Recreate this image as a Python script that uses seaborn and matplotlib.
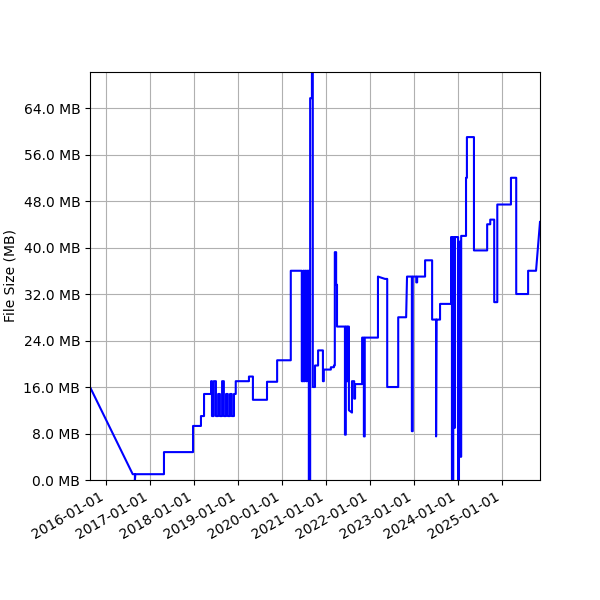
import matplotlib
matplotlib.use("Agg")
import matplotlib.pyplot as plt
import matplotlib.dates as mdates
from matplotlib.ticker import FuncFormatter, MultipleLocator
import seaborn as sns
import pandas as pd

# time in decimal years, size in MB (rows of 10 aligned)
t = [2015.64, 2016.61, 2016.66, 2016.66, 2016.67, 2017.32, 2017.32, 2017.98, 2017.98, 2018.16,
     2018.16, 2018.23, 2018.23, 2018.39, 2018.39, 2018.41, 2018.41, 2018.45, 2018.45, 2018.50,
     2018.50, 2018.55, 2018.55, 2018.59, 2018.59, 2018.64, 2018.64, 2018.68, 2018.68, 2018.73,
     2018.73, 2018.77, 2018.77, 2018.82, 2018.82, 2018.86, 2018.86, 2018.91, 2018.91, 2018.95,
     2018.95, 2019.25, 2019.25, 2019.34, 2019.34, 2019.66, 2019.66, 2019.89, 2019.89, 2020.20,
     2020.20, 2020.45, 2020.45, 2020.48, 2020.48, 2020.50, 2020.50, 2020.52, 2020.52, 2020.55,
     2020.55, 2020.57, 2020.57, 2020.61, 2020.61, 2020.64, 2020.64, 2020.68, 2020.68, 2020.70,
     2020.70, 2020.75, 2020.75, 2020.82, 2020.82, 2020.93, 2020.93, 2020.95, 2020.95, 2021.11,
     2021.11, 2021.18, 2021.18, 2021.20, 2021.20, 2021.23, 2021.23, 2021.25, 2021.25, 2021.43,
     2021.43, 2021.45, 2021.45, 2021.48, 2021.48, 2021.50, 2021.50, 2021.52, 2021.52, 2021.59,
     2021.59, 2021.64, 2021.64, 2021.66, 2021.66, 2021.82, 2021.82, 2021.86, 2021.86, 2021.88,
     2021.88, 2022.18, 2022.18, 2022.34, 2022.39, 2022.39, 2022.64, 2022.64, 2022.82, 2022.84,
     2022.95, 2022.95, 2022.97, 2022.97, 2023.05, 2023.05, 2023.07, 2023.07, 2023.25, 2023.25,
     2023.41, 2023.41, 2023.50, 2023.50, 2023.51, 2023.59, 2023.59, 2023.84, 2023.84, 2023.86,
     2023.86, 2023.89, 2023.89, 2023.91, 2023.91, 2023.93, 2023.93, 2024.00, 2024.00, 2024.02,
     2024.02, 2024.05, 2024.05, 2024.07, 2024.07, 2024.18, 2024.18, 2024.20, 2024.20, 2024.36,
     2024.36, 2024.66, 2024.66, 2024.73, 2024.73, 2024.82, 2024.82, 2024.89, 2024.89, 2025.20,
     2025.20, 2025.32, 2025.32, 2025.59, 2025.59, 2025.77, 2025.86]
mb = [16.0, 1.0, 1.0, 0.0, 1.0, 1.0, 4.8, 4.8, 9.3, 9.3,
      11.0, 11.0, 14.8, 14.8, 17.0, 17.0, 11.0, 11.0, 17.0, 17.0,
      11.0, 11.0, 14.8, 14.8, 11.0, 11.0, 17.0, 17.0, 11.0, 11.0,
      14.8, 14.8, 11.0, 11.0, 14.8, 14.8, 11.0, 11.0, 14.8, 14.8,
      17.0, 17.0, 17.8, 17.8, 13.8, 13.8, 16.9, 16.9, 20.6, 20.6,
      36.0, 36.0, 17.0, 17.0, 36.0, 36.0, 17.0, 17.0, 36.0, 36.0,
      17.0, 17.0, 36.0, 36.0, 0.0, 0.0, 65.7, 65.7, 72.0, 72.0,
      16.0, 16.0, 19.7, 19.7, 22.3, 22.3, 17.0, 17.0, 19.0, 19.0,
      19.4, 19.4, 19.7, 19.7, 39.2, 39.2, 33.6, 33.6, 26.4, 26.4,
      7.8, 7.8, 26.4, 26.4, 17.0, 17.0, 26.4, 26.4, 12.0, 11.6,
      17.0, 17.0, 14.0, 14.0, 16.5, 16.5, 24.5, 24.5, 7.5, 7.5,
      24.5, 24.5, 35.0, 34.6, 34.6, 16.0, 16.0, 28.0, 28.0, 35.0,
      35.0, 8.4, 8.4, 35.0, 35.0, 34.0, 34.0, 35.0, 35.0, 37.8,
      37.8, 27.6, 27.6, 7.5, 27.6, 27.6, 30.3, 30.3, 41.8, 41.8,
      0.0, 0.0, 41.8, 41.8, 9.0, 9.0, 41.8, 41.8, 0.0, 0.0,
      41.0, 41.0, 4.0, 4.0, 42.0, 42.0, 52.0, 52.0, 59.0, 59.0,
      39.5, 39.5, 44.0, 44.0, 44.8, 44.8, 30.6, 30.6, 47.4, 47.4,
      52.0, 52.0, 32.0, 32.0, 36.0, 36.0, 44.4]

def to_date(y):
    return pd.Timestamp("2016-01-01") + pd.to_timedelta((y - 2016.0) * 365.25, unit="D")

df = pd.DataFrame({"date": [to_date(v) for v in t], "size": mb})

fig = plt.figure(figsize=(6, 6), dpi=100)
ax = fig.add_axes([0.15, 0.2, 0.75, 0.68])
sns.lineplot(data=df, x="date", y="size", sort=False, estimator=None, color="blue", linewidth=1.5, ax=ax)
ax.set_xlim(to_date(2015.64), to_date(2025.86))
ax.set_ylim(0, 70.2)
ax.yaxis.set_major_locator(MultipleLocator(8))
ax.yaxis.set_major_formatter(FuncFormatter(lambda v, p: f"{v:.1f} MB"))
ax.xaxis.set_major_locator(mdates.YearLocator())
ax.xaxis.set_major_formatter(mdates.DateFormatter("%Y-%m-%d"))
ax.set_xlabel("")
ax.set_ylabel("File Size (MB)")
ax.grid(True, color="#b0b0b0", linewidth=0.8)
for lbl in ax.get_xticklabels():
    lbl.set_rotation(30)
    lbl.set_ha("right")
fig.savefig("out.png", dpi=100)
